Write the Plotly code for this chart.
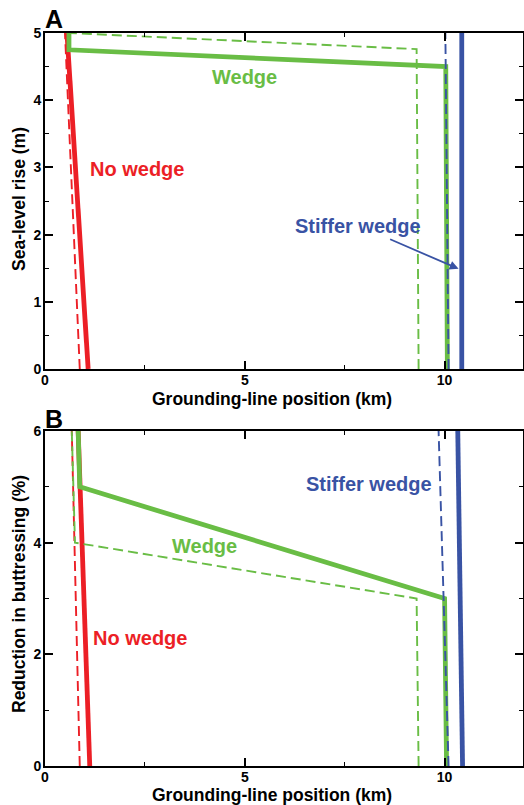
import plotly.graph_objects as go

# ---- Panel A data (Sea-level rise, m) ----
a_nowedge_x = [1.08, 0.55]
a_nowedge_y = [0, 5]
a_nowedge_dash_x = [0.87, 0.5]
a_nowedge_dash_y = [0, 5]
a_wedge_x = [10.07, 10.03, 0.6, 0.6]
a_wedge_y = [0, 4.5, 4.75, 5.0]
a_wedge_dash_x = [9.35, 9.3, 0.6]
a_wedge_dash_y = [0, 4.76, 5.0]
a_stiff_x = [10.43, 10.43]
a_stiff_y = [0, 5]
a_stiff_dash_x = [10.1, 10.02]
a_stiff_dash_y = [0, 5]

# ---- Panel B data (Reduction in buttressing, %) ----
b_nowedge_x = [1.12, 0.87, 0.83]
b_nowedge_y = [0, 5, 6]
b_nowedge_dash_x = [0.87, 0.67]
b_nowedge_dash_y = [0, 6]
b_wedge_x = [10.05, 10.0, 0.87, 0.83]
b_wedge_y = [0, 3.0, 5.0, 6.0]
b_wedge_dash_x = [9.35, 9.3, 0.75, 0.67]
b_wedge_dash_y = [0, 3.0, 4.0, 6.0]
b_stiff_x = [10.45, 10.33]
b_stiff_y = [0, 6]
b_stiff_dash_x = [10.1, 9.85]
b_stiff_dash_y = [0, 6]

x_ticks = [0, 5, 10]
a_y_ticks = [0, 1, 2, 3, 4, 5]
b_y_ticks = [0, 2, 4, 6]

RED = "#ec1f26"
GREEN = "#69bd45"
BLUE = "#3953a4"
FONT = "Liberation Sans"
DASH = "10px,5px"
THICK = 4.8
THIN = 1.9

fig = go.Figure()

def add(x, y, color, width, dash, xa, ya):
    fig.add_trace(go.Scatter(x=x, y=y, mode="lines",
                             line=dict(color=color, width=width, dash=dash),
                             xaxis=xa, yaxis=ya, showlegend=False,
                             hoverinfo="skip"))

for xa, ya, data in [
    ("x", "y", [
        (a_nowedge_dash_x, a_nowedge_dash_y, RED, THIN, DASH),
        (a_nowedge_x, a_nowedge_y, RED, THICK, "solid"),
        (a_wedge_dash_x, a_wedge_dash_y, GREEN, THIN, DASH),
        (a_wedge_x, a_wedge_y, GREEN, THICK, "solid"),
        (a_stiff_x, a_stiff_y, BLUE, THICK, "solid"),
        (a_stiff_dash_x, a_stiff_dash_y, BLUE, THIN, DASH),
    ]),
    ("x2", "y2", [
        (b_nowedge_dash_x, b_nowedge_dash_y, RED, THIN, DASH),
        (b_nowedge_x, b_nowedge_y, RED, THICK, "solid"),
        (b_wedge_dash_x, b_wedge_dash_y, GREEN, THIN, DASH),
        (b_wedge_x, b_wedge_y, GREEN, THICK, "solid"),
        (b_stiff_x, b_stiff_y, BLUE, THICK, "solid"),
        (b_stiff_dash_x, b_stiff_dash_y, BLUE, THIN, DASH),
    ]),
]:
    for (x, y, c, w, d) in data:
        add(x, y, c, w, d, xa, ya)

W, H = 524, 805
xdom = [45 / W, 522.5 / W]
a_dom = [1 - 369 / H, 1 - 33 / H]
b_dom = [1 - 766 / H, 1 - 431 / H]

tickfont = dict(family=FONT, size=14, color="black", weight="bold")
common_axis = dict(showline=True, linecolor="black", linewidth=1.8, mirror="ticks",
                   ticks="inside", ticklen=8, tickwidth=1.5, tickcolor="black",
                   showgrid=False, zeroline=False, tickfont=tickfont, automargin=False)

def minor(vals):
    return dict(tickvals=vals, ticks="inside", ticklen=4, tickcolor="black", tickwidth=1.2)

fig.update_layout(
    template="none",
    width=W, height=H,
    margin=dict(l=0, r=0, t=0, b=0, autoexpand=False),
    plot_bgcolor="white", paper_bgcolor="white",
    xaxis=dict(domain=xdom, range=[0, 11.95], anchor="y", tickvals=x_ticks,
               minor=minor([2.5, 7.5]), ticklabelstandoff=-3, **common_axis),
    yaxis=dict(domain=a_dom, range=[0, 5], anchor="x", tickvals=a_y_ticks,
               minor=minor([0.5, 1.5, 2.5, 3.5, 4.5]), ticklabelstandoff=-1, **common_axis),
    xaxis2=dict(domain=xdom, range=[0, 11.95], anchor="y2", tickvals=x_ticks,
                minor=minor([2.5, 7.5]), ticklabelstandoff=-3, **common_axis),
    yaxis2=dict(domain=b_dom, range=[0, 6], anchor="x2", tickvals=b_y_ticks,
                minor=minor([1, 3, 5]), ticklabelstandoff=-1, **common_axis),
)

def txt(x, y, text, color, size, xref="x", yref="y"):
    fig.add_annotation(x=x, y=y, xref=xref, yref=yref, text=text, showarrow=False,
                       xanchor="center", yanchor="middle",
                       font=dict(family=FONT, size=size, color=color, weight="bold"))

# Series labels
txt(2.29, 2.97, "No wedge", RED, 20)
txt(4.99, 4.35, "Wedge", GREEN, 20)
txt(7.83, 2.13, "Stiffer wedge", BLUE, 20)
fig.add_annotation(x=10.35, y=1.49, ax=8.6, ay=1.94, xref="x", yref="y", axref="x", ayref="y",
                   text="", showarrow=True, arrowhead=2, arrowsize=1, arrowwidth=1.8, arrowcolor=BLUE)

txt(2.38, 2.29, "No wedge", RED, 20, xref="x2", yref="y2")
txt(4.0, 3.94, "Wedge", GREEN, 20, xref="x2", yref="y2")
txt(8.1, 5.05, "Stiffer wedge", BLUE, 20, xref="x2", yref="y2")

# Axis titles and panel labels
def ptxt(px, py, text, size, angle=0):
    fig.add_annotation(x=px / W, y=1 - py / H, xref="paper", yref="paper", text=text,
                       showarrow=False, textangle=angle, xanchor="center", yanchor="middle",
                       font=dict(family=FONT, size=size, color="black", weight="bold"))

ptxt(272, 399, "Grounding-line position (km)", 17.5)
ptxt(272, 795, "Grounding-line position (km)", 17.5)
ptxt(19, 199, "Sea-level rise (m)", 17.5, angle=-90)
ptxt(19, 594, "Reduction in buttressing (%)", 17.5, angle=-90)
ptxt(54, 19, "A", 25)
ptxt(54, 419, "B", 25)

fig.write_html("out.html", post_script="document.body.style.margin='0px';",
               config={"displayModeBar": False})
